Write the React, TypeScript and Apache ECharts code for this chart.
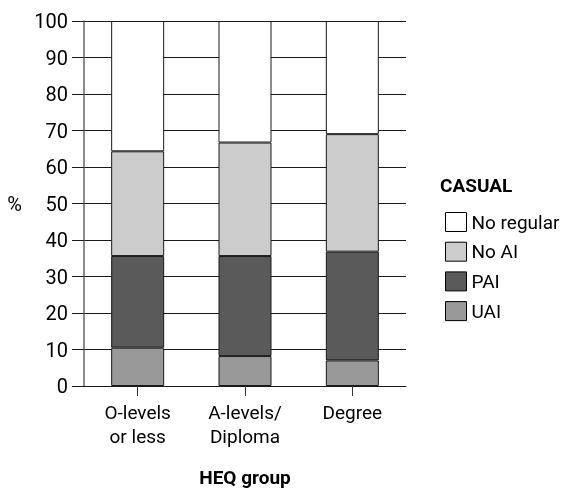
import React, { useEffect, useRef } from "react";
import * as echarts from "echarts";

const categories = ["O-levels\nor less", "A-levels/\nDiploma", "Degree"];
const uai = [10.5, 8.2, 7.0];
const pai = [25.1, 27.4, 29.8];
const noAi = [28.7, 31.1, 32.2];
const noRegular = [35.7, 33.3, 31.0];
const seriesNames = ["UAI", "PAI", "No AI", "No regular"];
const legendOrder = ["No regular", "No AI", "PAI", "UAI"];
const yTicks = { min: 0, max: 100, interval: 10 };

const FONT = "Roboto, 'Liberation Sans', sans-serif";

export default function App() {
  const ref = useRef<HTMLDivElement>(null);
  useEffect(() => {
    if (!ref.current) return;
    const chart = echarts.init(ref.current, undefined, { renderer: "svg" });
    const colors = ["#999999", "#5a5a5a", "#cccccc", "#ffffff"];
    const data = [uai, pai, noAi, noRegular];
    chart.setOption({
      animation: false,
      textStyle: { fontFamily: FONT },
      grid: { left: 84, right: 162, top: 21, bottom: 106 },
      legend: {
        orient: "vertical",
        left: 440,
        top: 207,
        icon: "rect",
        itemWidth: 21,
        itemHeight: 19,
        itemGap: 9.7,
        data: legendOrder,
        selectedMode: false,
        itemStyle: { borderColor: "#000", borderWidth: 1 },
        textStyle: { fontFamily: FONT, fontSize: 19, color: "#000", padding: [0, 0, 0, 0] },
      },
      graphic: [
        {
          type: "text",
          left: 440,
          top: 176,
          style: { text: "CASUAL", font: `bold 19px ${FONT}`, fill: "#000" },
        },
      ],
      xAxis: {
        type: "category",
        data: categories,
        name: "HEQ group",
        nameLocation: "middle",
        nameGap: 82,
        nameTextStyle: { fontFamily: FONT, fontSize: 19, fontWeight: "bold", color: "#000" },
        axisLine: { show: true, lineStyle: { color: "#1a1a1a", width: 1 } },
        axisTick: { show: true, alignWithLabel: true, length: 10, lineStyle: { color: "#333" } },
        axisLabel: { fontFamily: FONT, fontSize: 19, lineHeight: 24, color: "#000", margin: 14 },
      },
      yAxis: {
        type: "value",
        min: yTicks.min,
        max: yTicks.max,
        interval: yTicks.interval,
        name: "%",
        nameLocation: "middle",
        nameRotate: 0,
        nameGap: 62,
        nameTextStyle: { fontFamily: FONT, fontSize: 20, color: "#000" },
        axisLine: { show: true, lineStyle: { color: "#666", width: 1.5 } },
        axisTick: { show: true, length: 12, lineStyle: { color: "#1a1a1a" } },
        axisLabel: { fontFamily: FONT, fontSize: 20, color: "#000", margin: 16 },
        splitLine: { show: true, lineStyle: { color: "#1a1a1a", width: 1 } },
      },
      series: seriesNames.map((name, i) => ({
        name,
        type: "bar",
        stack: "total",
        barWidth: 53,
        data: data[i],
        itemStyle: { color: colors[i], borderColor: "#1a1a1a", borderWidth: 1 },
      })),
    });
    return () => chart.dispose();
  }, []);
  return (
    <div
      ref={ref}
      style={{ position: "fixed", left: 0, top: 0, width: 568, height: 492 }}
    />
  );
}
